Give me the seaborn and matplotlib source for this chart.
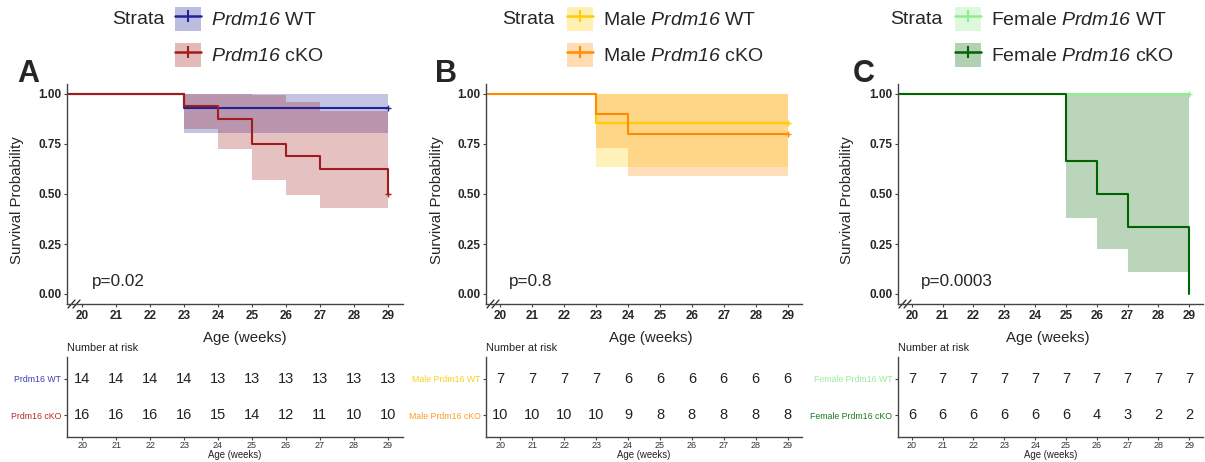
import matplotlib.pyplot as plt
import seaborn as sns
from matplotlib.patches import Patch
from matplotlib.lines import Line2D
from matplotlib.legend_handler import HandlerTuple
from matplotlib.ticker import FormatStrFormatter

W, H = 1205, 462

weeks = [20, 21, 22, 23, 24, 25, 26, 27, 28, 29]

# A: all mice
a_wt_time = [0, 23, 29]
a_wt_surv = [1.0, 0.929, 0.929]
a_wt_lower = [1.0, 0.806, 0.806]
a_wt_upper = [1.0, 1.0, 1.0]
a_wt_risk = [14, 14, 14, 14, 13, 13, 13, 13, 13, 13]

a_cko_time = [0, 23, 24, 25, 26, 27, 29]
a_cko_surv = [1.0, 0.9375, 0.875, 0.75, 0.6875, 0.625, 0.5]
a_cko_lower = [1.0, 0.823, 0.727, 0.569, 0.493, 0.430, 0.430]
a_cko_upper = [1.0, 1.0, 1.0, 0.995, 0.958, 0.916, 0.916]
a_cko_risk = [16, 16, 16, 16, 15, 14, 12, 11, 10, 10]

# B: males
b_wt_time = [0, 23, 29]
b_wt_surv = [1.0, 0.857, 0.857]
b_wt_lower = [1.0, 0.634, 0.634]
b_wt_upper = [1.0, 1.0, 1.0]
b_wt_risk = [7, 7, 7, 7, 6, 6, 6, 6, 6, 6]

b_cko_time = [0, 23, 24, 29]
b_cko_surv = [1.0, 0.9, 0.8, 0.8]
b_cko_lower = [1.0, 0.731, 0.588, 0.588]
b_cko_upper = [1.0, 1.0, 1.0, 1.0]
b_cko_risk = [10, 10, 10, 10, 9, 8, 8, 8, 8, 8]

# C: females
c_wt_time = [0, 29]
c_wt_surv = [1.0, 1.0]
c_wt_risk = [7, 7, 7, 7, 7, 7, 7, 7, 7, 7]

c_cko_time = [0, 25, 26, 27, 29]
c_cko_surv = [1.0, 0.667, 0.5, 0.333, 0.0]
c_cko_lower = [1.0, 0.378, 0.224, 0.109, 0.109]
c_cko_upper = [1.0, 1.0, 1.0, 1.0, 1.0]
c_cko_risk = [6, 6, 6, 6, 6, 6, 4, 3, 2, 2]

p_values = ["p=0.02", "p=0.8", "p=0.0003"]

sns.set_theme(style="white")
plt.rcParams['font.family'] = ['Liberation Sans', 'DejaVu Sans']
# math text only used for the italic gene name, digits included
plt.rcParams['mathtext.fontset'] = 'custom'
plt.rcParams['mathtext.rm'] = 'Liberation Sans:italic'
plt.rcParams['mathtext.it'] = 'Liberation Sans:italic'

IT = r"$Prdm16$"

panels = [
    dict(letter="A", pval=p_values[0],
         box=(67, 403), strata_x=112, key_x=175, letter_x=17, ylab_x=24, xlab_x=245,
         groups=[
             dict(leg=IT + " WT", row="Prdm16 WT", color="#22229c", rowcolor="#3b3bb0",
                  t=a_wt_time, s=a_wt_surv, lo=a_wt_lower, hi=a_wt_upper, risk=a_wt_risk, cens=True),
             dict(leg=IT + " cKO", row="Prdm16 cKO", color="#a11d1d", rowcolor="#b22a2a",
                  t=a_cko_time, s=a_cko_surv, lo=a_cko_lower, hi=a_cko_upper, risk=a_cko_risk, cens=True),
         ]),
    dict(letter="B", pval=p_values[1],
         box=(486, 802), strata_x=502, key_x=567, letter_x=435, ylab_x=444, xlab_x=651,
         groups=[
             dict(leg="Male " + IT + " WT", row="Male Prdm16 WT", color="#ffcc00", rowcolor="#f7d21e",
                  t=b_wt_time, s=b_wt_surv, lo=b_wt_lower, hi=b_wt_upper, risk=b_wt_risk, cens=True),
             dict(leg="Male " + IT + " cKO", row="Male Prdm16 cKO", color="#ff8c00", rowcolor="#ff9a26",
                  t=b_cko_time, s=b_cko_surv, lo=b_cko_lower, hi=b_cko_upper, risk=b_cko_risk, cens=True),
         ]),
    dict(letter="C", pval=p_values[2],
         box=(898, 1203), strata_x=890, key_x=955, letter_x=853, ylab_x=854, xlab_x=1048,
         groups=[
             dict(leg="Female " + IT + " WT", row="Female Prdm16 WT", color="#90ee90", rowcolor="#9beb9b",
                  t=c_wt_time, s=c_wt_surv, lo=None, hi=None, risk=c_wt_risk, cens=True),
             dict(leg="Female " + IT + " cKO", row="Female Prdm16 cKO", color="#006400", rowcolor="#1a7a1a",
                  t=c_cko_time, s=c_cko_surv, lo=c_cko_lower, hi=c_cko_upper, risk=c_cko_risk, cens=False),
         ]),
]

fig = plt.figure(figsize=(W / 100, H / 100), dpi=100)


def px_axes(left, top, right, bottom):
    return fig.add_axes([left / W, 1 - bottom / H, (right - left) / W, (bottom - top) / H])


def style_spines(ax):
    for side in ("top", "right"):
        ax.spines[side].set_visible(False)
    for side in ("left", "bottom"):
        ax.spines[side].set_color("#444444")
        ax.spines[side].set_linewidth(1.0)


XLIM = (19.55, 29.45)

for p in panels:
    left, right = p["box"]
    ax = px_axes(left, 84, right, 304)
    for g in p["groups"]:
        if g["lo"] is not None:
            ax.fill_between(g["t"], g["lo"], g["hi"], step="post", color=g["color"],
                            alpha=0.27, lw=0)
    for g in p["groups"]:
        sns.lineplot(x=g["t"], y=g["s"], ax=ax, color=g["color"], lw=1.5,
                     drawstyle="steps-post", estimator=None, sort=False)
        if g["cens"]:
            ax.plot([g["t"][-1]], [g["s"][-1]], marker="+", ls="", color=g["color"],
                    markersize=5, markeredgewidth=1.0)
    ax.set_xlim(*XLIM)
    ax.set_ylim(-0.05, 1.05)
    ax.set_xticks(weeks)
    ax.set_yticks([0, 0.25, 0.5, 0.75, 1.0])
    ax.yaxis.set_major_formatter(FormatStrFormatter("%.2f"))
    ax.tick_params(axis="both", labelsize=8.5, length=2.5, width=0.8, color="#444444", pad=1.5,
                   left=True, bottom=True)
    for lab in ax.get_xticklabels() + ax.get_yticklabels():
        lab.set_fontweight("bold")
    style_spines(ax)
    ax.set_ylabel("Survival Probability", fontsize=10.8)
    ax.yaxis.set_label_coords(p["ylab_x"] / W, 1 - 200 / H, transform=fig.transFigure)
    ax.set_xlabel("Age (weeks)", fontsize=10.8)
    ax.xaxis.set_label_coords(p["xlab_x"] / W, 1 - 331 / H, transform=fig.transFigure)
    ax.text(20.28, 0.04, p["pval"], fontsize=12.3, ha="left", va="baseline")

    # axis break mark
    wpx, hpx = right - left, 220
    for dx in (1, 6):
        ax.plot([dx / wpx, (dx + 7) / wpx], [-4 / hpx, 4 / hpx], transform=ax.transAxes,
                color="#222222", lw=0.9, clip_on=False)

    # legend
    handles = [(Patch(facecolor=g["color"], alpha=0.3, edgecolor="none"),
                Line2D([], [], color=g["color"], lw=1.8, marker="|", markersize=8,
                       markeredgewidth=1.5)) for g in p["groups"]]
    fig.legend(handles, [g["leg"] for g in p["groups"]],
               handler_map={tuple: HandlerTuple(ndivide=1)},
               loc="upper left", bbox_to_anchor=(p["key_x"] / W, 1 - 7 / H),
               frameon=False, fontsize=14, handlelength=1.35, handleheight=1.5,
               labelspacing=0.62, handletextpad=0.5, borderpad=0, borderaxespad=0)
    fig.text(p["strata_x"] / W, 1 - 20 / H, "Strata", fontsize=14, ha="left", va="center")
    fig.text(p["letter_x"] / W, 1 - 82 / H, p["letter"], fontsize=22, fontweight="bold",
             ha="left", va="baseline")

    # number at risk table
    axt = px_axes(left, 357, right, 437)
    rows = [2, 1]
    for r, g in zip(rows, p["groups"]):
        for wk, n in zip(weeks, g["risk"]):
            axt.text(wk, r, str(n), ha="center", va="center", fontsize=10.5, color="#222222")
    axt.set_xlim(*XLIM)
    axt.set_ylim(0.4, 2.6)
    axt.set_xticks(weeks)
    axt.set_yticks(rows)
    axt.set_yticklabels([g["row"] for g in p["groups"]])
    for lab, g in zip(axt.get_yticklabels(), p["groups"]):
        lab.set_color(g["rowcolor"])
    axt.tick_params(axis="y", labelsize=6.3, length=2.5, width=0.8, color="#444444", pad=1.5,
                    left=True)
    axt.tick_params(axis="x", labelsize=6.5, length=2, width=0.8, color="#444444", pad=1,
                    bottom=True, labelcolor="#333333")
    style_spines(axt)
    axt.set_xlabel("Age (weeks)", fontsize=6.9, labelpad=0, color="#222222")
    axt.set_title("Number at risk", loc="left", fontsize=7.8, pad=4, color="#222222")

fig.savefig("out.png", dpi=100)
